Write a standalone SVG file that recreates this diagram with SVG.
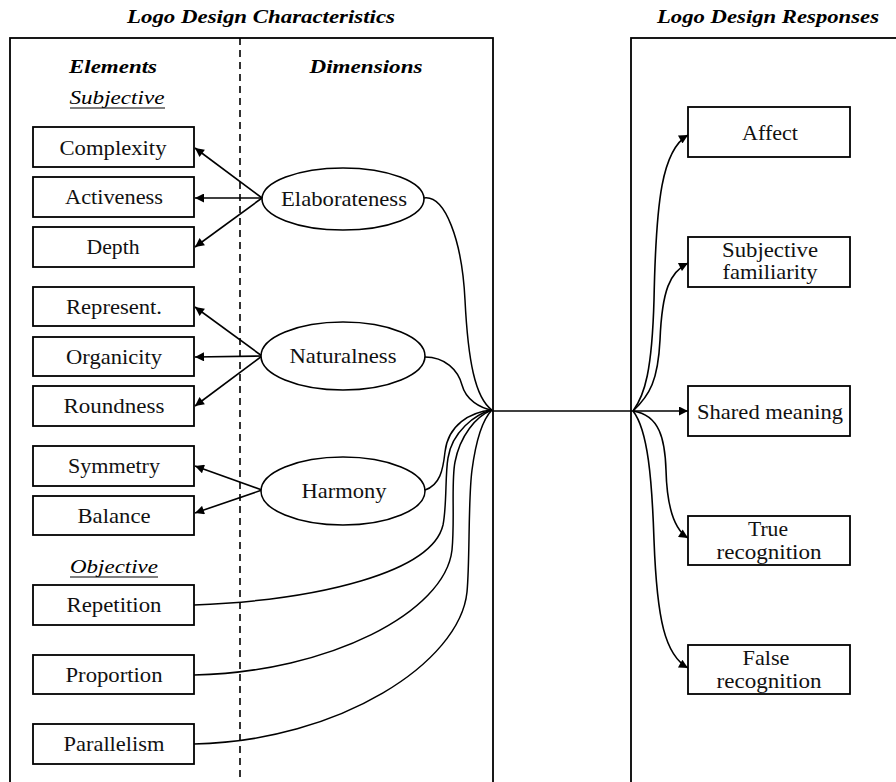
<svg xmlns="http://www.w3.org/2000/svg" width="896" height="782" viewBox="0 0 896 782">
<style>
.frame{fill:none;stroke:#000;stroke-width:1.8}
.box{fill:#fff;stroke:#000;stroke-width:1.8}
.ell{fill:#fff;stroke:#000;stroke-width:1.6}
.t{font-family:"Liberation Serif","Times New Roman",serif;font-size:21px;fill:#111;text-anchor:middle}
.h{font-family:"Liberation Serif","Times New Roman",serif;font-size:18px;font-weight:bold;font-style:italic;fill:#000;text-anchor:middle}
.s{font-family:"Liberation Serif","Times New Roman",serif;font-size:19px;font-style:italic;fill:#000;text-anchor:middle}
.c{fill:none;stroke:#000;stroke-width:1.5}
.a{fill:none;stroke:#000;stroke-width:1.6;marker-end:url(#ah)}
</style>
<defs>
<marker id="ah" viewBox="0 0 10 10" refX="10" refY="5" markerWidth="11" markerHeight="9" markerUnits="userSpaceOnUse" orient="auto"><path d="M0,0 L10,5 L0,10 z" fill="#000"/></marker>
</defs>
<rect width="896" height="782" fill="#fff"/>

<g id="frames">
<rect class="frame" x="10" y="38" width="483" height="780"/>
<rect class="frame" x="631" y="38" width="300" height="780"/>
<line x1="240" y1="38" x2="240" y2="782" stroke="#000" stroke-width="1.6" stroke-dasharray="7,5"/>
</g>

<g id="headings">
<text class="h" x="261" y="23" textLength="268" lengthAdjust="spacingAndGlyphs">Logo Design Characteristics</text>
<text class="h" x="768" y="23" textLength="222" lengthAdjust="spacingAndGlyphs">Logo Design Responses</text>
<text class="h" x="113" y="73" textLength="88" lengthAdjust="spacingAndGlyphs">Elements</text>
<text class="h" x="366" y="73" textLength="113" lengthAdjust="spacingAndGlyphs">Dimensions</text>
<text class="s" x="117" y="104" textLength="95" lengthAdjust="spacingAndGlyphs">Subjective</text>
<line x1="70" y1="108" x2="165" y2="108" stroke="#000" stroke-width="1"/>
<text class="s" x="114" y="573" textLength="88" lengthAdjust="spacingAndGlyphs">Objective</text>
<line x1="70" y1="577" x2="158" y2="577" stroke="#000" stroke-width="1"/>
</g>

<g id="connectors">
<line class="a" x1="262" y1="198" x2="195" y2="148"/>
<line class="a" x1="262" y1="198" x2="195" y2="198"/>
<line class="a" x1="262" y1="198" x2="195" y2="247"/>
<line class="a" x1="262" y1="356" x2="195" y2="307"/>
<line class="a" x1="262" y1="356" x2="195" y2="357"/>
<line class="a" x1="262" y1="356" x2="195" y2="406"/>
<line class="a" x1="262" y1="490" x2="195" y2="466"/>
<line class="a" x1="262" y1="490" x2="195" y2="513"/>
<path class="c" d="M424,198 C445,195 462,240 465,300 C468,360 475,398 492,410"/>
<path class="c" d="M425,357 C445,357 458,370 462,385 C466,400 480,408 492,410"/>
<path class="c" d="M425,490 C440,485 443,470 445,452 C448,425 470,412 492,410"/>
<path class="c" d="M194,605 C320,600 432,572 443,525 C447,505 445,475 448,458 C452,432 475,414 492,410"/>
<path class="c" d="M194,675 C330,672 445,612 452,550 C455,520 451,482 455,462 C460,436 476,416 492,410"/>
<path class="c" d="M194,744 C340,741 460,662 467,592 C470,560 468,500 472,470 C476,440 482,420 492,410"/>
<line class="c" x1="492" y1="411" x2="633" y2="411" stroke-width="2"/>
<line class="a" x1="633" y1="411" x2="688" y2="411"/>
<path class="a" d="M633,411 C645,395 652,370 654,300 C656,200 662,150 688,135"/>
<path class="a" d="M633,411 C650,395 658,380 660,340 C662,290 670,272 688,263"/>
<path class="a" d="M633,411 C660,415 665,440 666,470 C667,510 675,530 688,538"/>
<path class="a" d="M633,411 C648,430 652,480 654,540 C657,620 665,655 688,668"/>
</g>

<g id="complexity"><rect class="box" x="33" y="127" width="161" height="40"/><text class="t" x="113" y="155" textLength="107" lengthAdjust="spacingAndGlyphs">Complexity</text></g>
<g id="activeness"><rect class="box" x="33" y="177" width="161" height="40"/><text class="t" x="114" y="204" textLength="98" lengthAdjust="spacingAndGlyphs">Activeness</text></g>
<g id="depth"><rect class="box" x="33" y="227" width="161" height="40"/><text class="t" x="113" y="254" textLength="53" lengthAdjust="spacingAndGlyphs">Depth</text></g>
<g id="represent"><rect class="box" x="33" y="287" width="161" height="39"/><text class="t" x="114" y="314" textLength="96" lengthAdjust="spacingAndGlyphs">Represent.</text></g>
<g id="organicity"><rect class="box" x="33" y="337" width="161" height="39"/><text class="t" x="114" y="364" textLength="96" lengthAdjust="spacingAndGlyphs">Organicity</text></g>
<g id="roundness"><rect class="box" x="33" y="386" width="161" height="40"/><text class="t" x="114" y="413" textLength="101" lengthAdjust="spacingAndGlyphs">Roundness</text></g>
<g id="symmetry"><rect class="box" x="33" y="446" width="161" height="40"/><text class="t" x="114" y="473" textLength="92" lengthAdjust="spacingAndGlyphs">Symmetry</text></g>
<g id="balance"><rect class="box" x="33" y="496" width="161" height="39"/><text class="t" x="114" y="523" textLength="73" lengthAdjust="spacingAndGlyphs">Balance</text></g>
<g id="repetition"><rect class="box" x="33" y="585" width="161" height="40"/><text class="t" x="114" y="612" textLength="95" lengthAdjust="spacingAndGlyphs">Repetition</text></g>
<g id="proportion"><rect class="box" x="33" y="655" width="161" height="39"/><text class="t" x="114" y="682" textLength="97" lengthAdjust="spacingAndGlyphs">Proportion</text></g>
<g id="parallelism"><rect class="box" x="33" y="724" width="161" height="40"/><text class="t" x="114" y="751" textLength="101" lengthAdjust="spacingAndGlyphs">Parallelism</text></g>

<g id="elaborateness"><ellipse class="ell" cx="343" cy="199" rx="81" ry="31"/><text class="t" x="344" y="206" textLength="126" lengthAdjust="spacingAndGlyphs">Elaborateness</text></g>
<g id="naturalness"><ellipse class="ell" cx="343" cy="356" rx="82" ry="34"/><text class="t" x="343" y="363" textLength="107" lengthAdjust="spacingAndGlyphs">Naturalness</text></g>
<g id="harmony"><ellipse class="ell" cx="343" cy="491" rx="82" ry="34"/><text class="t" x="344" y="498" textLength="85" lengthAdjust="spacingAndGlyphs">Harmony</text></g>

<g id="affect"><rect class="box" x="688" y="107" width="162" height="50"/><text class="t" x="770" y="140" textLength="56" lengthAdjust="spacingAndGlyphs">Affect</text></g>
<g id="familiarity"><rect class="box" x="688" y="237" width="162" height="50"/><text class="t" x="770" y="257" textLength="96" lengthAdjust="spacingAndGlyphs">Subjective</text><text class="t" x="770" y="279" textLength="95" lengthAdjust="spacingAndGlyphs">familiarity</text></g>
<g id="shared"><rect class="box" x="688" y="386" width="162" height="50"/><text class="t" x="770" y="419" textLength="146" lengthAdjust="spacingAndGlyphs">Shared meaning</text></g>
<g id="truerec"><rect class="box" x="688" y="516" width="162" height="49"/><text class="t" x="768" y="536" textLength="40" lengthAdjust="spacingAndGlyphs">True</text><text class="t" x="769" y="559" textLength="105" lengthAdjust="spacingAndGlyphs">recognition</text></g>
<g id="falserec"><rect class="box" x="688" y="645" width="162" height="49"/><text class="t" x="766" y="665" textLength="47" lengthAdjust="spacingAndGlyphs">False</text><text class="t" x="769" y="688" textLength="105" lengthAdjust="spacingAndGlyphs">recognition</text></g>
</svg>
